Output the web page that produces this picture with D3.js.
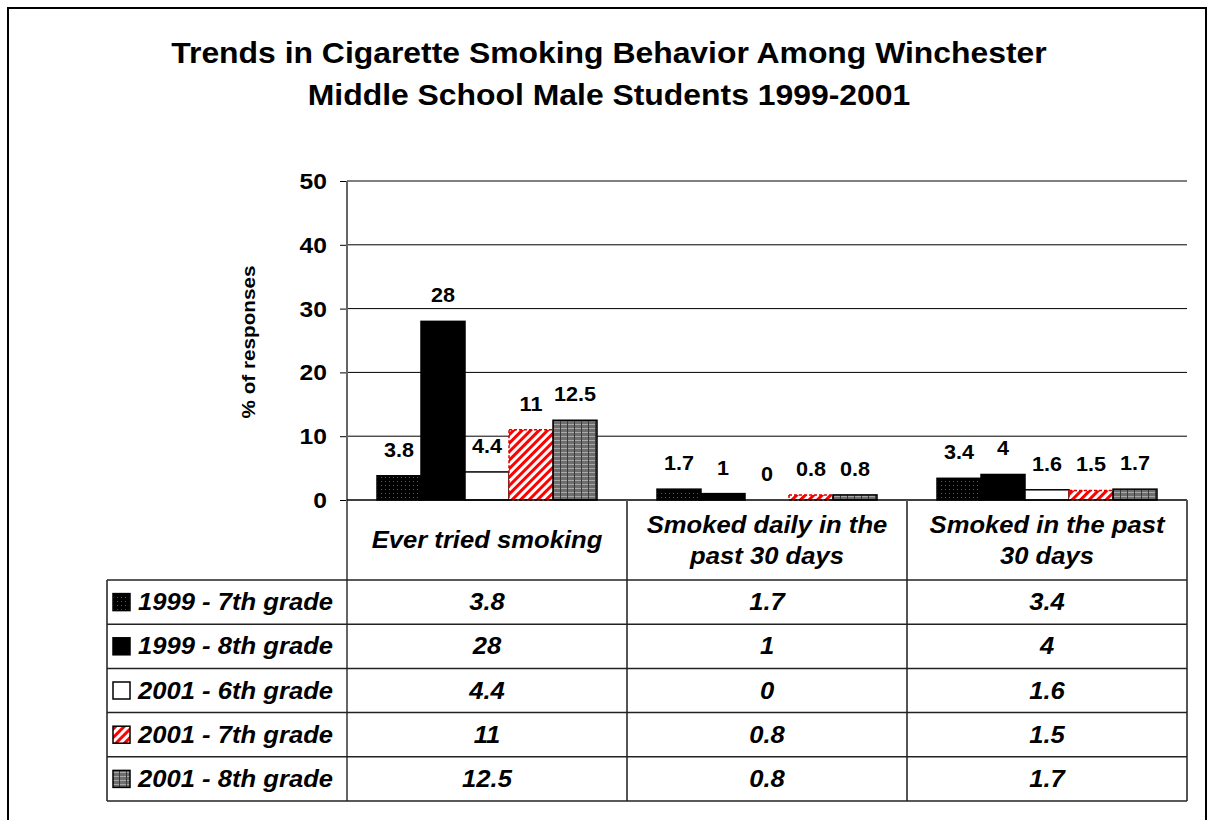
<!DOCTYPE html>
<html>
<head>
<meta charset="utf-8">
<script src="https://cdn.jsdelivr.net/npm/d3@7"></script>
<style>
  html, body { margin: 0; padding: 0; background: #fff; }
  svg text { font-family: "Liberation Sans", Arial, sans-serif; font-weight: bold; fill: #000; }
</style>
</head>
<body>
<svg id="chart" width="1208" height="820"></svg>
<script>
// ---- data ----
const categories = ["Ever tried smoking", "Smoked daily in the past 30 days", "Smoked in the past 30 days"];
const categoryLines = [["Ever tried smoking"], ["Smoked daily in the", "past 30 days"], ["Smoked in the past", "30 days"]];
const seriesNames = ["1999 - 7th grade", "1999 - 8th grade", "2001 - 6th grade", "2001 - 7th grade", "2001 - 8th grade"];
const v1999g7 = [3.8, 1.7, 3.4];
const v1999g8 = [28, 1, 4];
const v2001g6 = [4.4, 0, 1.6];
const v2001g7 = [11, 0.8, 1.5];
const v2001g8 = [12.5, 0.8, 1.7];
const seriesValues = [v1999g7, v1999g8, v2001g6, v2001g7, v2001g8];
const yTicks = [0, 10, 20, 30, 40, 50];
const titleLines = ["Trends in Cigarette Smoking Behavior Among Winchester", "Middle School Male Students 1999-2001"];
const yTitle = "% of responses";

const svg = d3.select("#chart");
const defs = svg.append("defs");

// horizontally stretched text helper
function stext(parent, px, py, str, size, opts = {}) {
  const sx = opts.sx || 1.1;
  const g = parent.append("g").attr("transform", `translate(${px},${py}) scale(${sx},1)`);
  const t = g.append("text").attr("x", 0).attr("y", 0)
    .attr("text-anchor", opts.anchor || "middle").attr("font-size", size).text(str);
  if (opts.italic) t.attr("font-style", "italic");
  return t;
}

// patterns
const p1 = defs.append("pattern").attr("id", "pat0").attr("patternUnits", "userSpaceOnUse").attr("width", 4).attr("height", 4);
p1.append("rect").attr("width", 4).attr("height", 4).attr("fill", "#000");
p1.append("rect").attr("x", 1).attr("y", 1).attr("width", 1).attr("height", 1).attr("fill", "#5a5a5a");

const p4 = defs.append("pattern").attr("id", "pat3").attr("patternUnits", "userSpaceOnUse").attr("width", 6).attr("height", 6)
  .attr("patternTransform", "rotate(45)");
p4.append("rect").attr("width", 6).attr("height", 6).attr("fill", "#fff");
p4.append("rect").attr("width", 3).attr("height", 6).attr("fill", "#ff0000");

const p5 = defs.append("pattern").attr("id", "pat4").attr("patternUnits", "userSpaceOnUse").attr("width", 7).attr("height", 4);
p5.append("rect").attr("width", 7).attr("height", 4).attr("fill", "#6e6e6e");
p5.append("rect").attr("y", 0).attr("width", 7).attr("height", 1).attr("fill", "#a8a8a8");
p5.append("rect").attr("x", 0).attr("width", 1).attr("height", 4).attr("fill", "#3a3a3a");

const fills = ["url(#pat0)", "#000", "#fff", "url(#pat3)", "url(#pat4)"];
const strokes = ["#000", "#000", "#000", "#e00000", "#000"];

// frame
svg.append("rect").attr("x", 8).attr("y", 8).attr("width", 1198).attr("height", 840)
  .attr("fill", "none").attr("stroke", "#000").attr("stroke-width", 2);

// title
titleLines.forEach((d, i) => stext(svg, 609, 63 + i * 42, d, 29, { sx: 1.1 }));

// layout
const plotL = 347, plotR = 1187, plotT = 181, plotB = 500;
const x = d3.scaleBand().domain(categories).range([plotL, plotR]).padding(0);
const xs = d3.scaleBand().domain(seriesNames).range([30, 250]).padding(0);
const y = d3.scaleLinear().domain([0, 50]).range([plotB, plotT]);

// gridlines
svg.append("g").selectAll("line").data(yTicks.filter(t => t > 0)).join("line")
  .attr("x1", plotL).attr("x2", plotR).attr("y1", d => y(d)).attr("y2", d => y(d))
  .attr("stroke", "#000").attr("stroke-width", 1);

// y axis (ticks via d3 axis, labels stretched)
const yAxis = d3.axisLeft(y).tickValues(yTicks).tickSize(7).tickFormat("");
const ya = svg.append("g").attr("transform", `translate(${plotL},0)`).call(yAxis);
ya.select(".domain").remove();
ya.selectAll(".tick line").attr("stroke", "#000");
yTicks.forEach(t => stext(svg, 327, y(t) + 8, String(t), 22, { anchor: "end", sx: 1.12 }));

// y title
svg.append("g").attr("transform", "translate(255,342) rotate(-90) scale(1.15,1)")
  .append("text").attr("text-anchor", "middle").attr("font-size", 18).text(yTitle);

// bars
const seriesData = seriesNames.map((s, i) => ({ name: s, idx: i, values: seriesValues[i] }));
const sg = svg.append("g").selectAll("g").data(seriesData).join("g");
sg.selectAll("rect").data(d => d.values.map((v, j) => ({ v, cat: categories[j], s: d.name, idx: d.idx }))).join("rect")
  .attr("x", d => x(d.cat) + xs(d.s))
  .attr("y", d => y(d.v))
  .attr("width", xs.bandwidth())
  .attr("height", d => plotB - y(d.v))
  .attr("fill", d => fills[d.idx])
  .attr("stroke", d => d.v > 0 ? strokes[d.idx] : "none")
  .attr("stroke-width", 1.5)
  .attr("stroke-dasharray", d => d.idx === 3 ? "3,2" : null);

// value labels
seriesData.forEach(s => s.values.forEach((v, j) => {
  stext(svg, x(categories[j]) + xs(s.name) + xs.bandwidth() / 2, y(v) - 19, String(v), 20, { sx: 1.08 });
}));

// axis line
svg.append("line").attr("x1", plotL).attr("x2", plotL).attr("y1", plotT).attr("y2", 801)
  .attr("stroke", "#666").attr("stroke-width", 2);

// zero line
svg.append("line").attr("x1", plotL).attr("x2", plotR).attr("y1", plotB).attr("y2", plotB)
  .attr("stroke", "#000").attr("stroke-width", 1.5);

// table
const tableL = 107, headB = 580, tableB = 801;
const rowH = (tableB - headB) / seriesNames.length;
const tg = svg.append("g").attr("class", "table");
tg.selectAll("line.v").data(categories).join("line").attr("class", "v")
  .attr("x1", d => x(d) + x.bandwidth()).attr("x2", d => x(d) + x.bandwidth())
  .attr("y1", plotB).attr("y2", tableB).attr("stroke", "#555").attr("stroke-width", 2);
tg.append("line").attr("x1", tableL).attr("x2", tableL).attr("y1", headB).attr("y2", tableB)
  .attr("stroke", "#555").attr("stroke-width", 2);
tg.selectAll("line.h").data(d3.range(seriesNames.length + 1)).join("line").attr("class", "h")
  .attr("x1", tableL).attr("x2", plotR)
  .attr("y1", i => headB + i * rowH).attr("y2", i => headB + i * rowH)
  .attr("stroke", "#222").attr("stroke-width", 1.5);

const TF = 23.5, TSX = 1.09;
// header labels
categories.forEach((c, j) => {
  const lines = categoryLines[j];
  lines.forEach((ln, i) => {
    stext(tg, x(c) + x.bandwidth() / 2, 540 + 8 + (i - (lines.length - 1) / 2) * 31, ln, TF, { sx: TSX, italic: true });
  });
});

// rows
seriesData.forEach((s, i) => {
  const cy = headB + (i + 0.5) * rowH;
  tg.append("rect").attr("x", 113).attr("y", cy - 8.5).attr("width", 17).attr("height", 17)
    .attr("fill", fills[i]).attr("stroke", "#000").attr("stroke-width", 1.5);
  stext(tg, 138, cy + 8, s.name, TF, { sx: TSX, italic: true, anchor: "start" });
  s.values.forEach((v, j) => {
    stext(tg, x(categories[j]) + x.bandwidth() / 2, cy + 8, String(v), TF, { sx: TSX, italic: true });
  });
});
</script>
</body>
</html>
